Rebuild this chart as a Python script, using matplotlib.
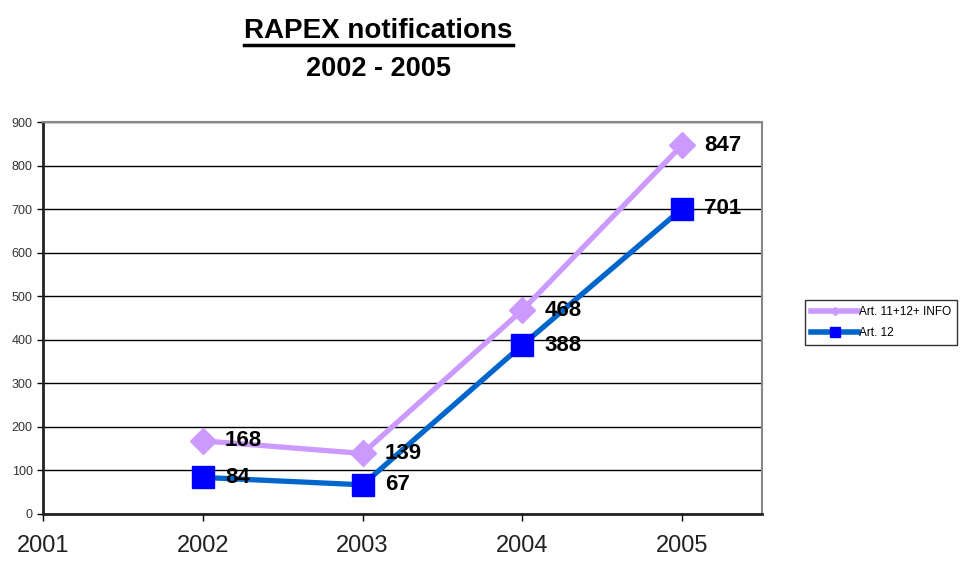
import matplotlib
matplotlib.use("Agg")
import matplotlib.pyplot as plt
from matplotlib.lines import Line2D

plt.rcParams['font.family'] = ['Liberation Sans', 'DejaVu Sans']

years = [2002, 2003, 2004, 2005]
tick_years = [2001, 2002, 2003, 2004, 2005]
total = [168, 139, 468, 847]
art12 = [84, 67, 388, 701]
series_names = ["Art. 11+12+ INFO", "Art. 12"]

fig = plt.figure(figsize=(9.62, 5.61), dpi=100)
ax = fig.add_axes([43/962, 1-514/561, 719/962, 392/561])

ax.set_xlim(2001, 2005.5)
ax.set_ylim(0, 900)
ax.set_yticks(range(0, 901, 100))
ax.set_xticks(tick_years)
ax.set_xticklabels([str(y) for y in tick_years], fontsize=17, color="#222222")
ax.tick_params(axis="y", labelsize=9, labelcolor="#333333", length=4, width=1)
ax.tick_params(axis="x", length=5, width=1, pad=10)
ax.grid(axis="y", color="black", linewidth=1)
ax.set_axisbelow(True)
for s in ["top", "right"]:
    ax.spines[s].set_color("#888888")
    ax.spines[s].set_linewidth(1.5)
for s in ["left", "bottom"]:
    ax.spines[s].set_color("#222222")
    ax.spines[s].set_linewidth(2)

ax.plot(years, total, color="#CC99FF", linewidth=3.8, marker="D", markersize=13,
        markerfacecolor="#CC99FF", markeredgecolor="#CC99FF", zorder=3)
ax.plot(years, art12, color="#0066CC", linewidth=3.8, marker="s", markersize=16,
        markerfacecolor="#0000FF", markeredgecolor="#0000FF", zorder=4)

for x, v in zip(years, total):
    ax.annotate(str(v), (x, v), xytext=(16, 0), textcoords="offset points",
                fontsize=16, fontweight="bold", va="center", ha="left", zorder=5)
for x, v in zip(years, art12):
    ax.annotate(str(v), (x, v), xytext=(16, 0), textcoords="offset points",
                fontsize=16, fontweight="bold", va="center", ha="left", zorder=5)

handles = [
    Line2D([0], [0], color="#CC99FF", linewidth=4, marker="D", markersize=4,
           markerfacecolor="#CC99FF", markeredgecolor="#CC99FF"),
    Line2D([0], [0], color="#0066CC", linewidth=4, marker="s", markersize=7,
           markerfacecolor="#0000FF", markeredgecolor="#0000FF"),
]
leg = fig.legend(handles, series_names, loc="upper left",
                 bbox_to_anchor=(805/962, 1-300/561), fontsize=8.5,
                 frameon=True, fancybox=False, edgecolor="black",
                 handlelength=4.0, handletextpad=0.1, borderpad=0.5,
                 borderaxespad=0, labelspacing=0.8)
leg.get_frame().set_linewidth(1)

fig.text(378/962, 1-31/561, "RAPEX notifications", ha="center", va="center",
         fontsize=20, fontweight="bold")
fig.add_artist(Line2D([244/962, 513/962], [1-45/561, 1-45/561],
                      color="black", linewidth=2.5))
fig.text(378/962, 1-69/561, "2002 - 2005", ha="center", va="center",
         fontsize=19.5, fontweight="bold")

fig.savefig("out.png", dpi=100)
